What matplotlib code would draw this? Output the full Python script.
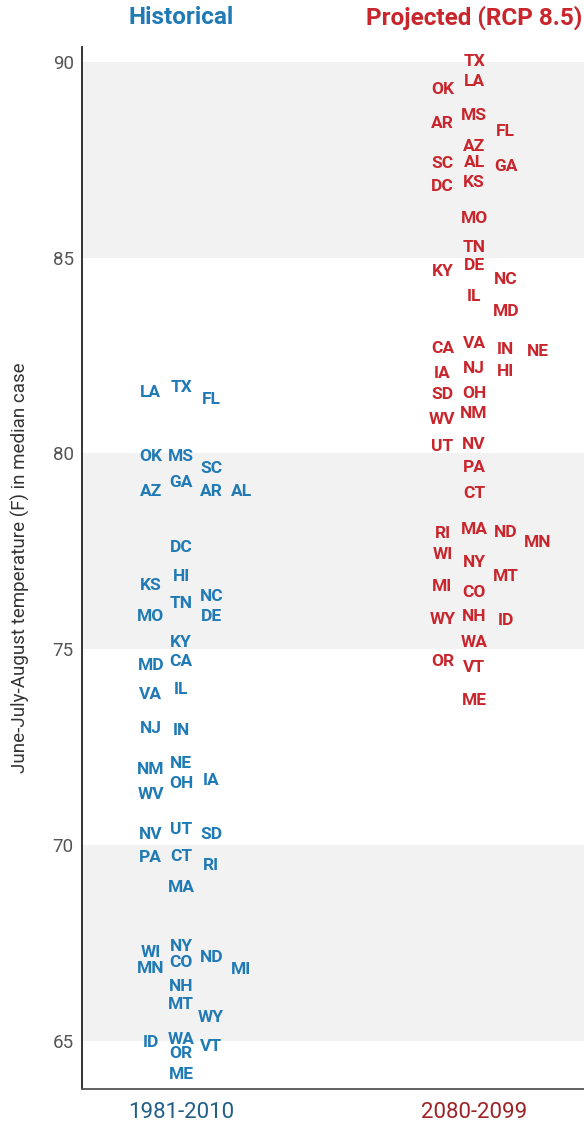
import matplotlib
matplotlib.use("Agg")
import matplotlib.pyplot as plt

BLUE = "#1f7ab5"
RED = "#c8262c"

periods = ["1981-2010", "2080-2099"]
titles = ["Historical", "Projected (RCP 8.5)"]

# historical June-July-August median temperature (F)
hist_states = ["LA", "TX", "FL", "OK", "MS", "SC", "GA", "AZ", "AR", "AL",
               "DC", "HI", "KS", "NC", "TN", "MO", "DE", "KY", "MD", "CA",
               "IL", "VA", "NJ", "IN", "NE", "NM", "IA", "OH", "WV", "UT",
               "NV", "SD", "CT", "PA", "RI", "MA", "NY", "WI", "ND", "CO",
               "MN", "MI", "NH", "MT", "WY", "ID", "WA", "VT", "OR", "ME"]
hist_temps = [81.55, 81.68, 81.37, 79.91, 79.91, 79.61, 79.25, 79.02, 79.02, 79.02,
              77.59, 76.87, 76.62, 76.36, 76.18, 75.83, 75.83, 75.16, 74.58, 74.68,
              73.96, 73.84, 72.97, 72.92, 72.07, 71.92, 71.64, 71.56, 71.28, 70.41,
              70.26, 70.26, 69.72, 69.67, 69.47, 68.91, 67.40, 67.25, 67.12, 67.00,
              66.84, 66.81, 66.40, 65.94, 65.59, 64.97, 65.03, 64.85, 64.67, 64.13]
hist_slot = [-1, 0, 1, -1, 0, 1, 0, -1, 1, 2,
             0, 0, -1, 1, 0, -1, 1, 0, -1, 0,
             0, -1, -1, 0, 0, -1, 1, 0, -1, 0,
             -1, 1, 0, -1, 1, 0, 0, -1, 1, 0,
             -1, 2, 0, 0, 1, -1, 0, 1, 0, 0]

# projected (RCP 8.5) 2080-2099
proj_states = ["TX", "LA", "OK", "MS", "AR", "FL", "AZ", "SC", "AL", "GA",
               "DC", "KS", "MO", "TN", "DE", "KY", "NC", "IL", "MD", "CA",
               "VA", "IN", "NE", "IA", "HI", "NJ", "SD", "OH", "WV", "NM",
               "UT", "NV", "PA", "CT", "RI", "MA", "ND", "MN", "WI", "NY",
               "MT", "MI", "CO", "WY", "NH", "ID", "WA", "OR", "VT", "ME"]
proj_temps = [90.00, 89.50, 89.29, 88.62, 88.43, 88.21, 87.84, 87.40, 87.43, 87.34,
              86.82, 86.92, 85.99, 85.27, 84.81, 84.65, 84.45, 84.02, 83.62, 82.69,
              82.80, 82.65, 82.61, 82.05, 82.09, 82.18, 81.50, 81.54, 80.88, 81.03,
              80.18, 80.22, 79.65, 78.97, 77.95, 78.05, 77.99, 77.73, 77.41, 77.21,
              76.86, 76.60, 76.45, 75.77, 75.84, 75.73, 75.16, 74.69, 74.53, 73.68]
proj_slot = [0, 0, -1, 0, -1, 1, 0, -1, 0, 1,
             -1, 0, 0, 0, 0, -1, 1, 0, 1, -1,
             0, 1, 2, -1, 1, 0, -1, 0, -1, 0,
             -1, 0, 0, 0, -1, 0, 1, 2, -1, 0,
             1, -1, 0, -1, 0, 1, 0, -1, 0, 0]

bands = [(65, 70), (75, 80), (85, 90)]
yticks = [65, 70, 75, 80, 85, 90]

fig = plt.figure(figsize=(5.84, 11.27), dpi=100)
ax = fig.add_axes([0.1404, 0.0337, 0.8596, 0.9246])

for lo, hi in bands:
    ax.axhspan(lo, hi, color="#f2f2f2", lw=0, zorder=0)

step = [0.103, 0.108]
series = [(hist_states, hist_temps, hist_slot, BLUE),
          (proj_states, proj_temps, proj_slot, RED)]
for i, (states, temps, slots, col) in enumerate(series):
    for st, t, s in zip(states, temps, slots):
        ax.text(i + s * step[i], t, st, ha="center", va="center",
                color=col, fontsize=12.5, fontweight="bold", family="Roboto",
                zorder=3)

ax.set_xlim(-0.338, 1.375)
ax.set_ylim(63.77, 90.38)

ax.set_yticks(yticks)
ax.set_yticklabels([str(v) for v in yticks], family="Roboto", fontsize=13.5, color="#555555")
ax.tick_params(axis="y", length=0, pad=6)

ax.set_xticks([0, 1])
ax.set_xticklabels(periods, family="Roboto", fontsize=16)
for lbl, c in zip(ax.get_xticklabels(), ["#1f5f88", "#9e2327"]):
    lbl.set_color(c)
ax.tick_params(axis="x", length=0, pad=9)

for side in ["top", "right"]:
    ax.spines[side].set_visible(False)
ax.spines["left"].set_linewidth(1.3)
ax.spines["bottom"].set_linewidth(1.3)
ax.spines["left"].set_color("#222222")
ax.spines["bottom"].set_color("#555555")

ax.set_ylabel("June-July-August temperature (F) in median case",
              family="Roboto", fontsize=13.5, color="#333333", labelpad=16)

# column headings
for i, (t, c) in enumerate(zip(titles, [BLUE, RED])):
    ax.text(i, 1.0 + (47 - 18) / 1042, t, transform=ax.get_xaxis_transform(),
            ha="center", va="center", family="Roboto", fontweight="bold",
            fontsize=17.5, color=c)

fig.savefig("out.png", dpi=100)
